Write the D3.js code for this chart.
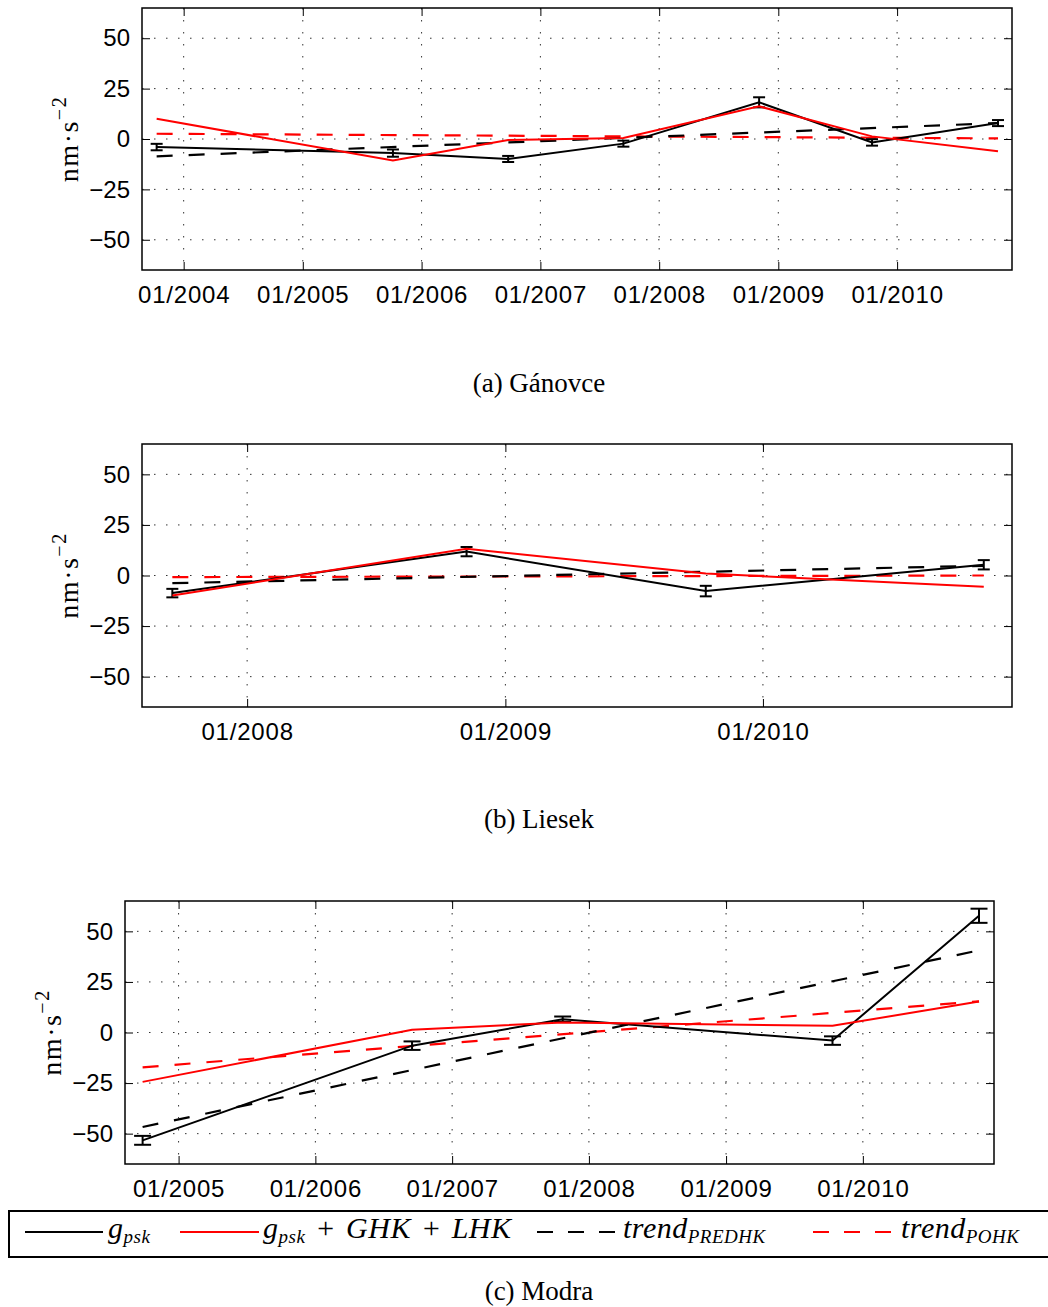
<html>
<head>
<meta charset="utf-8">
<style>
  body { margin: 0; background: #fff; }
  text { fill: #000; }
</style>
</head>
<body>
<script src="https://d3js.org/d3.v7.min.js"></script>
<script>

    // ---- data ----
    // (a) Gánovce
    var datesA = ["2003-10-10", "2005-10-05", "2006-09-24", "2007-09-13", "2008-11-03", "2009-10-16", "2010-11-07"];
    var gpskA = [-4.0, -7.0, -9.9, -2.3, 18.2, -1.7, 7.9];
    var errA = [1.6, 1.8, 1.5, 1.5, 2.5, 1.6, 1.5];
    var corrA = [10.0, -10.7, -0.5, 0.5, 16.2, 1.3, -6.1];
    var trendPredA = [-8.6, 7.9];
    var trendPoA = [2.6, 0.3];
    var ticksA = ["01/2004", "01/2005", "01/2006", "01/2007", "01/2008", "01/2009", "01/2010"];
    var domainA = ["2003-08-26", "2010-12-20"];

    // (b) Liesek
    var datesB = ["2007-09-17", "2008-11-07", "2009-10-12", "2010-11-10"];
    var gpskB = [-8.7, 11.8, -7.7, 5.3];
    var errB = [2.1, 2.3, 2.6, 2.3];
    var corrB = [-9.9, 13.2, 1.0, -5.5];
    var trendPredB = [-3.8, 4.8];
    var trendPoB = [-0.8, 0.0];
    var ticksB = ["01/2008", "01/2009", "01/2010"];
    var domainB = ["2007-08-05", "2010-12-20"];

    // (c) Modra
    var datesC = ["2004-09-27", "2006-09-16", "2007-10-23", "2009-10-12", "2010-11-07"];
    var gpskC = [-53.3, -6.5, 6.6, -4.0, 57.7];
    var errC = [2.2, 2.1, 1.3, 2.1, 3.5];
    var corrC = [-24.4, 1.3, 5.0, 3.3, 15.3];
    var trendPredC = [-46.7, 40.6];
    var trendPoC = [-17.2, 15.4];
    var ticksC = ["01/2005", "01/2006", "01/2007", "01/2008", "01/2009", "01/2010"];
    var domainC = ["2004-08-11", "2010-12-17"];

    var yTicks = [-50, -25, 0, 25, 50];
    var yDomain = [-65, 65];

    var parseDay = d3.timeParse("%Y-%m-%d");
    var parseTick = d3.timeParse("%m/%Y");

    var svg = d3.select("body").append("svg")
        .attr("xmlns", "http://www.w3.org/2000/svg")
        .attr("width", 1048)
        .attr("height", 1307);

    var panels = [
        { dates: datesA, gpsk: gpskA, err: errA, corr: corrA, pred: trendPredA, po: trendPoA, ticks: ticksA, domain: domainA,
          left: 142, right: 1012, top: 8, bottom: 270, cap: 12, ylabX: 78, caption: "(a) Gánovce", capY: 392 },
        { dates: datesB, gpsk: gpskB, err: errB, corr: corrB, pred: trendPredB, po: trendPoB, ticks: ticksB, domain: domainB,
          left: 142, right: 1012, top: 444, bottom: 707, cap: 12, ylabX: 78, caption: "(b) Liesek", capY: 828 },
        { dates: datesC, gpsk: gpskC, err: errC, corr: corrC, pred: trendPredC, po: trendPoC, ticks: ticksC, domain: domainC,
          left: 125, right: 994, top: 901, bottom: 1164, cap: 17, ylabX: 61, caption: "(c) Modra", capY: 1300 }
    ];

    panels.forEach(drawPanel);
    drawLegend();

    function drawPanel(p) {
        var w = p.right - p.left, h = p.bottom - p.top;
        var x = d3.scaleTime().domain(p.domain.map(parseDay)).range([0, w]);
        var y = d3.scaleLinear().domain(yDomain).range([h, 0]);
        var tickDates = p.ticks.map(parseTick);

        var g = svg.append("g").attr("transform", "translate(" + p.left + "," + p.top + ")");

        // grid (dotted)
        g.append("g").selectAll("line").data(yTicks).enter().append("line")
            .attr("x1", 0).attr("x2", w)
            .attr("y1", function(d) { return y(d); }).attr("y2", function(d) { return y(d); })
            .style("stroke", "#333").style("stroke-width", 1).style("stroke-dasharray", "1.5,10.5");
        g.append("g").selectAll("line").data(tickDates).enter().append("line")
            .attr("y1", 0).attr("y2", h)
            .attr("x1", function(d) { return x(d); }).attr("x2", function(d) { return x(d); })
            .style("stroke", "#333").style("stroke-width", 1).style("stroke-dasharray", "1.5,10.5");

        // axes, ticks inward on every side
        var fmt = function(d) { return d3.timeFormat("%m/%Y")(d); };
        var ax = g.append("g").attr("transform", "translate(0," + h + ")")
            .call(d3.axisBottom(x).tickValues(tickDates).tickFormat(fmt).tickSize(-8).tickPadding(16));
        g.append("g").call(d3.axisTop(x).tickValues(tickDates).tickFormat("").tickSize(-8));
        g.append("g")
            .call(d3.axisLeft(y).tickValues(yTicks).tickFormat(function(d) { return d < 0 ? "\u2212" + (-d) : d; }).tickSize(-8).tickPadding(12));
        g.append("g").attr("transform", "translate(" + w + ",0)")
            .call(d3.axisRight(y).tickValues(yTicks).tickFormat("").tickSize(-8));
        g.selectAll(".domain").remove();
        g.selectAll(".tick line").style("stroke", "#000").style("stroke-width", 1);
        g.selectAll(".tick text").style("font-family", "'Liberation Sans', Arial, sans-serif")
            .style("font-size", "24px").style("fill", "#000");
        ax.selectAll(".tick text").style("letter-spacing", "0.8px");

        // frame
        g.append("rect").attr("width", w).attr("height", h)
            .style("fill", "none").style("stroke", "#000").style("stroke-width", 1.5);

        var pts = p.dates.map(function(d, i) {
            return { t: parseDay(d), g: p.gpsk[i], e: p.err[i], c: p.corr[i] };
        });
        var first = pts[0].t, last = pts[pts.length - 1].t;

        var line = d3.line().x(function(d) { return x(d[0]); }).y(function(d) { return y(d[1]); });

        // trends
        g.append("path").datum([[first, p.po[0]], [last, p.po[1]]]).attr("d", line)
            .style("fill", "none").style("stroke", "#ff0000").style("stroke-width", 2.2).style("stroke-dasharray", "16,16");
        g.append("path").datum([[first, p.pred[0]], [last, p.pred[1]]]).attr("d", line)
            .style("fill", "none").style("stroke", "#000").style("stroke-width", 2.2).style("stroke-dasharray", "16,16");

        // g_psk with error bars
        g.append("path").datum(pts.map(function(d) { return [d.t, d.g]; })).attr("d", line)
            .style("fill", "none").style("stroke", "#000").style("stroke-width", 2);
        var eb = g.append("g").selectAll("g").data(pts).enter().append("g")
            .style("stroke", "#000").style("stroke-width", 2);
        eb.append("line")
            .attr("x1", function(d) { return x(d.t); }).attr("x2", function(d) { return x(d.t); })
            .attr("y1", function(d) { return y(d.g - d.e); }).attr("y2", function(d) { return y(d.g + d.e); });
        eb.append("line")
            .attr("x1", function(d) { return x(d.t) - p.cap / 2; }).attr("x2", function(d) { return x(d.t) + p.cap / 2; })
            .attr("y1", function(d) { return y(d.g - d.e); }).attr("y2", function(d) { return y(d.g - d.e); });
        eb.append("line")
            .attr("x1", function(d) { return x(d.t) - p.cap / 2; }).attr("x2", function(d) { return x(d.t) + p.cap / 2; })
            .attr("y1", function(d) { return y(d.g + d.e); }).attr("y2", function(d) { return y(d.g + d.e); });

        // g_psk + GHK + LHK
        g.append("path").datum(pts.map(function(d) { return [d.t, d.c]; })).attr("d", line)
            .style("fill", "none").style("stroke", "#ff0000").style("stroke-width", 2);

        // y label
        var yl = svg.append("text")
            .attr("transform", "translate(" + p.ylabX + "," + (p.top + h / 2) + ") rotate(-90)")
            .attr("text-anchor", "middle")
            .style("font-family", "'Liberation Serif', 'DejaVu Serif', serif")
            .style("font-size", "28px").style("letter-spacing", "1.5px");
        yl.append("tspan").text("nm\u00b7s");
        yl.append("tspan").attr("dy", -12).style("font-size", "20px").text("\u22122");

        // caption
        svg.append("text").attr("x", 539).attr("y", p.capY).attr("text-anchor", "middle")
            .style("font-family", "'Liberation Serif', 'DejaVu Serif', serif")
            .style("font-size", "27px")
            .text(p.caption);
    }

    function drawLegend() {
        var lg = svg.append("g");
        lg.append("rect").attr("x", 9).attr("y", 1211).attr("width", 1060).attr("height", 46)
            .style("fill", "#fff").style("stroke", "#000").style("stroke-width", 2);

        var items = [
            { x1: 25, x2: 103, color: "#000", dash: null, tx: 108, main: "g", sub: "psk", rest: "" },
            { x1: 180, x2: 259, color: "#ff0000", dash: null, tx: 263, main: "g", sub: "psk", rest: " + GHK + LHK" },
            { x1: 537, x2: 615, color: "#000", dash: "16,15", tx: 623, main: "trend", sub: "PREDHK", rest: "" },
            { x1: 813, x2: 892, color: "#ff0000", dash: "16,15", tx: 901, main: "trend", sub: "POHK", rest: "" }
        ];
        items.forEach(function(it) {
            lg.append("line").attr("x1", it.x1).attr("x2", it.x2).attr("y1", 1232).attr("y2", 1232)
                .style("stroke", it.color).style("stroke-width", 2)
                .style("stroke-dasharray", it.dash);
            var t = lg.append("text").attr("x", it.tx).attr("y", 1238)
                .style("font-family", "'Liberation Serif', 'DejaVu Serif', serif")
                .style("font-style", "italic").style("font-size", "30px").style("letter-spacing", "0.5px");
            t.append("tspan").text(it.main);
            t.append("tspan").attr("dy", 5).style("font-size", "19px").text(it.sub);
            if (it.rest) t.append("tspan").attr("dy", -5).style("word-spacing", "2px").text(it.rest);
        });
    }

</script>
</body>
</html>
